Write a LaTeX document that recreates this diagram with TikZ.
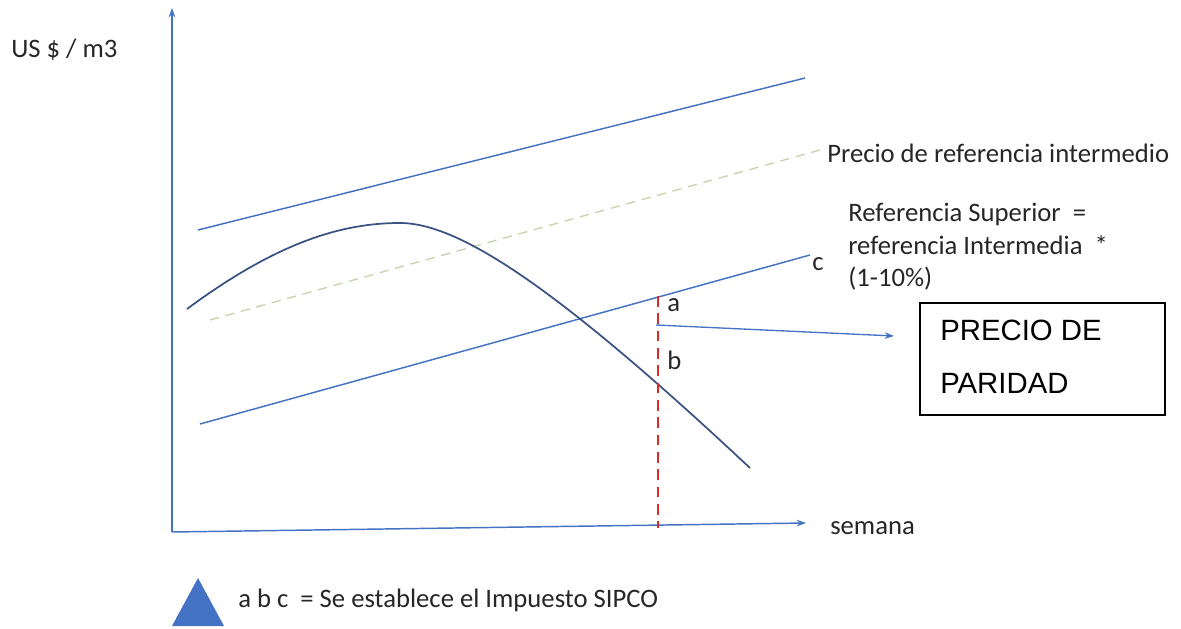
\documentclass[tikz,border=0pt]{standalone}
\usepackage{fontspec}
\setmainfont{Carlito}
\newfontfamily\arialf{Liberation Sans}
\usetikzlibrary{arrows.meta}
\definecolor{lblue}{RGB}{68,114,196}
\definecolor{dslate}{RGB}{58,82,130}
\definecolor{lgreen}{RGB}{196,212,172}
\definecolor{dred}{RGB}{220,40,40}
\begin{document}
\begin{tikzpicture}[x=0.75pt,y=-0.75pt,
  axis/.style={draw=lblue,line width=1.1pt,-{Stealth[length=7pt,width=5pt]}},
  refline/.style={draw=lblue,line width=1.1pt},
  lbl/.style={font=\fontsize{20}{24.5}\selectfont,text=black!85,inner sep=0pt},
  pt/.style={font=\fontsize{20}{24}\selectfont,text=black!85,inner sep=0pt}]
\useasboundingbox (0,0) rectangle (1181,628);
% axes
\coordinate (O) at (172,532);
\coordinate (Ytop) at (172,8);
\coordinate (Xend) at (806,523);
\draw[axis] (O) -- (Ytop);
\draw[axis] (O) -- (Xend);
\node[lbl,anchor=west] (ylab) at (11,50) {US \$ / m3};
\node[lbl,anchor=west] (xlab) at (830,528) {semana};
% upper line
\coordinate (u1) at (198,230);
\coordinate (u2) at (805,78);
\draw[refline] (u1) -- (u2);
% intermediate dashed
\coordinate (m1) at (210,320);
\coordinate (m2) at (820,150);
\draw[lgreen,line width=1pt,dash pattern=on 7pt off 5pt] (m1) -- (m2);
\node[lbl,anchor=west] (mlab) at (827,153) {Precio de referencia intermedio};
% lower line
\coordinate (l1) at (200,424);
\coordinate (l2) at (810,255);
\draw[refline] (l1) -- (l2);
\node[pt,anchor=west] (c) at (812,264) {c};
\node[lbl,anchor=north west,align=left] (suplab) at (848,203) {Referencia Superior \ =\\referencia Intermedia \ *\\(1-10\%)};
% curve
\coordinate (k0) at (187,309);
\coordinate (k1) at (400,223);
\coordinate (k2) at (750,468);
\draw[dslate,line width=1.3pt] (k0) .. controls (280,240) and (345,223) .. (k1)
  .. controls (460,223) and (560,290) .. (k2);
% red dashed vertical
\coordinate (r1) at (658,296);
\coordinate (r2) at (658,528);
\draw[dred,line width=1pt,dash pattern=on 8pt off 5pt] (r1) -- (r2);
\node[pt,anchor=west] (a) at (667,305) {a};
\node[pt,anchor=west] (b) at (667,360) {b};
% box
\node[draw=black,line width=1.1pt,minimum width=245*0.75pt,minimum height=112*0.75pt,inner sep=0pt] (box) at (1042.5,359) {};
\node[font=\arialf\fontsize{22}{26}\selectfont,anchor=west,inner sep=0pt] (p1) at (940,330) {PRECIO DE};
\node[font=\arialf\fontsize{22}{26}\selectfont,anchor=west,inner sep=0pt] (p2) at (940,383) {PARIDAD};
% arrow to box
\coordinate (as) at (656,325);
\coordinate (ae) at (894,336);
\draw[lblue,line width=1pt,-{Stealth[length=7pt,width=5pt]}] (as) -- (ae);
% legend
\fill[lblue] (172,626) -- (198,578) -- (224,626) -- cycle;
\node[lbl,anchor=west] (leg) at (238,600) {a b c \ = Se establece el Impuesto SIPCO};
\end{tikzpicture}
\end{document}
